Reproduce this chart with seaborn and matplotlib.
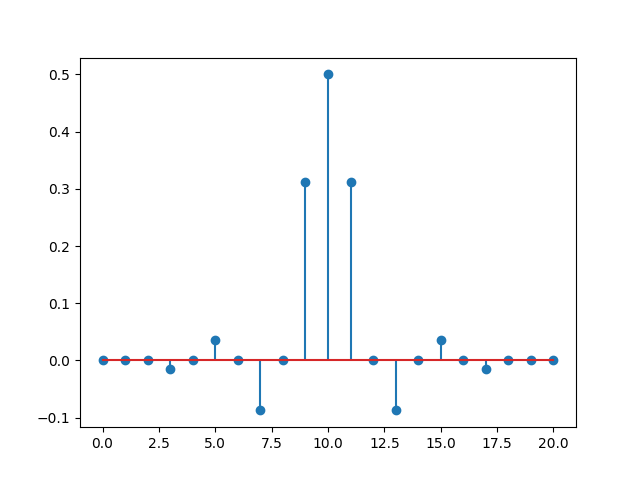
import matplotlib
matplotlib.use("Agg")
import matplotlib.pyplot as plt
import seaborn as sns
import numpy as np

n = list(range(21))
h = [0.0, 0.0, 0.0, -0.0157, 0.0, 0.035, 0.0, -0.0874, 0.0, 0.3113, 0.5,
     0.3113, 0.0, -0.0874, 0.0, 0.035, 0.0, -0.0157, 0.0, 0.0, 0.0]

plt.rcdefaults()
fig, ax = plt.subplots(figsize=(6.4, 4.8), dpi=100)
ax.stem(n, h)
fig.savefig("out.png")
